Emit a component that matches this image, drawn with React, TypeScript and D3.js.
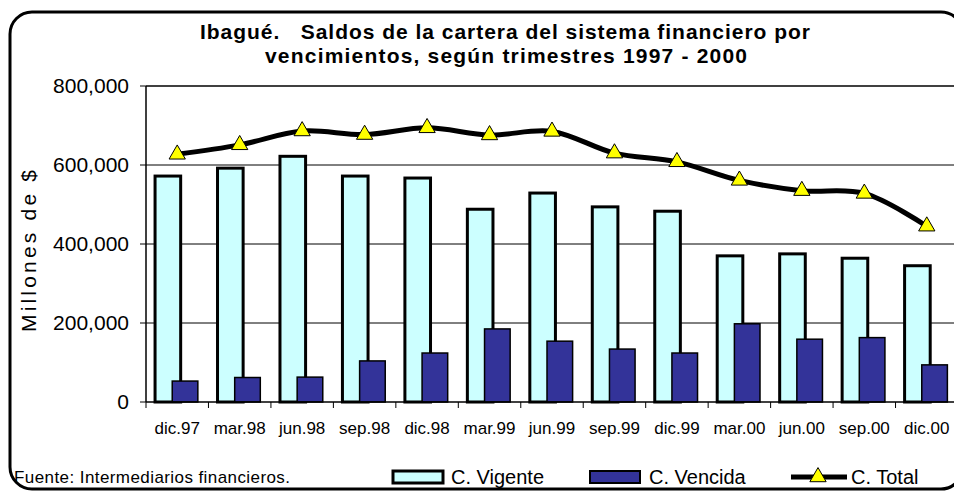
import React, { useEffect, useRef } from 'react';
import * as d3 from 'd3';

const categories = ['dic.97', 'mar.98', 'jun.98', 'sep.98', 'dic.98', 'mar.99', 'jun.99', 'sep.99', 'dic.99', 'mar.00', 'jun.00', 'sep.00', 'dic.00'];
const vigente = [572000, 592000, 622000, 572000, 567000, 488000, 529000, 494000, 483000, 370000, 375000, 364000, 345000];
const vencida = [53000, 62000, 63000, 104000, 124000, 185000, 154000, 134000, 124000, 198000, 159000, 163000, 94000];
const total = [627000, 651000, 686000, 677000, 694000, 676000, 685000, 630000, 608000, 561000, 535000, 528000, 445000];
const yTicks = [0, 200000, 400000, 600000, 800000];

const W = 954;
const H = 492;
const FONT = '"Liberation Sans", Arial, sans-serif';

const App = () => {
  const svgRef = useRef<SVGSVGElement>(null);

  useEffect(() => {
    const svg = d3.select(svgRef.current);
    svg.selectAll('*').remove();

    const left = 146;
    const right = 958;
    const top = 86;
    const bottom = 402;

    const x = d3.scaleBand<string>().domain(categories).range([left, right]);
    const y = d3.scaleLinear().domain([0, 800000]).range([bottom, top]);
    const bw = x.bandwidth();
    const barW = bw * 0.41;

    // outer frame (runs past the right edge, as in the original)
    svg.append('rect')
      .attr('x', 10).attr('y', 12)
      .attr('width', 953).attr('height', 477)
      .attr('rx', 22)
      .attr('fill', 'white')
      .attr('stroke', 'black')
      .attr('stroke-width', 3);

    // title
    const title = svg.append('g')
      .attr('font-family', FONT)
      .attr('font-weight', 'bold')
      .attr('font-size', 21);
    title.append('text')
      .attr('x', 200).attr('y', 39)
      .attr('textLength', 610).attr('lengthAdjust', 'spacing')
      .style('white-space', 'pre')
      .text('Ibagué.   Saldos de la cartera del sistema financiero por');
    title.append('text')
      .attr('x', 265).attr('y', 63)
      .attr('textLength', 482).attr('lengthAdjust', 'spacing')
      .text('vencimientos, según trimestres 1997 - 2000');

    // gridlines
    svg.append('g')
      .selectAll('line')
      .data(yTicks.filter((d) => d > 0))
      .join('line')
      .attr('x1', left).attr('x2', right)
      .attr('y1', (d) => y(d)).attr('y2', (d) => y(d))
      .attr('stroke', 'black')
      .attr('stroke-width', (d) => (d === 800000 ? 1.5 : 1));

    // y axis
    const yAxis = svg.append('g');
    yAxis.append('line')
      .attr('x1', left).attr('x2', left)
      .attr('y1', top).attr('y2', bottom)
      .attr('stroke', 'black').attr('stroke-width', 1.5);
    yAxis.selectAll('line.tick')
      .data(yTicks)
      .join('line')
      .attr('class', 'tick')
      .attr('x1', left - 6).attr('x2', left)
      .attr('y1', (d) => y(d)).attr('y2', (d) => y(d))
      .attr('stroke', 'black');
    yAxis.selectAll('text')
      .data(yTicks)
      .join('text')
      .attr('x', 129)
      .attr('y', (d) => y(d))
      .attr('dy', '0.35em')
      .attr('text-anchor', 'end')
      .attr('font-family', FONT)
      .attr('font-size', 21)
      .text((d) => d3.format(',')(d));

    svg.append('text')
      .attr('transform', 'translate(36,332) rotate(-90)')
      .attr('font-family', FONT)
      .attr('font-size', 21)
      .attr('textLength', 162)
      .attr('lengthAdjust', 'spacing')
      .text('Millones de $');

    // bars
    svg.append('g')
      .selectAll('rect')
      .data(categories)
      .join('rect')
      .attr('x', (d) => x(d)! + bw * 0.145)
      .attr('y', (_, i) => y(vigente[i]))
      .attr('width', barW)
      .attr('height', (_, i) => bottom - y(vigente[i]))
      .attr('fill', '#CCFFFF')
      .attr('stroke', 'black')
      .attr('stroke-width', 3);

    svg.append('g')
      .selectAll('rect')
      .data(categories)
      .join('rect')
      .attr('x', (d) => x(d)! + bw * 0.42)
      .attr('y', (_, i) => y(vencida[i]))
      .attr('width', barW)
      .attr('height', (_, i) => bottom - y(vencida[i]))
      .attr('fill', '#333399')
      .attr('stroke', 'black')
      .attr('stroke-width', 1.5);

    // x axis
    const xAxis = svg.append('g');
    xAxis.append('line')
      .attr('x1', left).attr('x2', right)
      .attr('y1', bottom).attr('y2', bottom)
      .attr('stroke', 'black').attr('stroke-width', 1.5);
    xAxis.selectAll('line.tick')
      .data(categories)
      .join('line')
      .attr('class', 'tick')
      .attr('x1', (d) => x(d)!).attr('x2', (d) => x(d)!)
      .attr('y1', bottom).attr('y2', bottom + 6)
      .attr('stroke', 'black');
    xAxis.selectAll('text')
      .data(categories)
      .join('text')
      .attr('x', (d) => x(d)! + bw / 2)
      .attr('y', 434)
      .attr('text-anchor', 'middle')
      .attr('font-family', FONT)
      .attr('font-size', 17)
      .text((d) => d);

    // total line
    const line = d3.line<number>()
      .x((_, i) => x(categories[i])! + bw / 2)
      .y((d) => y(d))
      .curve(d3.curveCatmullRom);
    svg.append('path')
      .datum(total)
      .attr('d', line)
      .attr('fill', 'none')
      .attr('stroke', 'black')
      .attr('stroke-width', 5);

    const tri = d3.symbol().type(d3.symbolTriangle).size(115);
    svg.append('g')
      .selectAll('path')
      .data(total)
      .join('path')
      .attr('d', tri)
      .attr('transform', (d, i) => `translate(${x(categories[i])! + bw / 2},${y(d)})`)
      .attr('fill', '#FFFF00')
      .attr('stroke', 'black')
      .attr('stroke-width', 1);

    // footer
    svg.append('text')
      .attr('x', 14).attr('y', 483)
      .attr('font-family', FONT)
      .attr('font-size', 17)
      .attr('textLength', 276)
      .attr('lengthAdjust', 'spacing')
      .text('Fuente: Intermediarios financieros.');

    // legend
    const lg = svg.append('g').attr('font-family', FONT).attr('font-size', 20);
    lg.append('rect').attr('x', 393).attr('y', 471).attr('width', 50).attr('height', 12)
      .attr('fill', '#CCFFFF').attr('stroke', 'black').attr('stroke-width', 3);
    lg.append('text').attr('x', 451).attr('y', 484).text('C. Vigente');
    lg.append('rect').attr('x', 590).attr('y', 471).attr('width', 50).attr('height', 12)
      .attr('fill', '#333399').attr('stroke', 'black').attr('stroke-width', 2);
    lg.append('text').attr('x', 649).attr('y', 484).text('C. Vencida');
    lg.append('line').attr('x1', 791).attr('x2', 847).attr('y1', 477).attr('y2', 477)
      .attr('stroke', 'black').attr('stroke-width', 5);
    lg.append('path').attr('d', tri).attr('transform', 'translate(818,477)')
      .attr('fill', '#FFFF00').attr('stroke', 'black').attr('stroke-width', 1);
    lg.append('text').attr('x', 851).attr('y', 484).text('C. Total');
  }, []);

  return (
    <svg
      ref={svgRef}
      width={W}
      height={H}
      style={{ position: 'absolute', left: 0, top: 0, background: 'white' }}
    />
  );
};

export default App;
